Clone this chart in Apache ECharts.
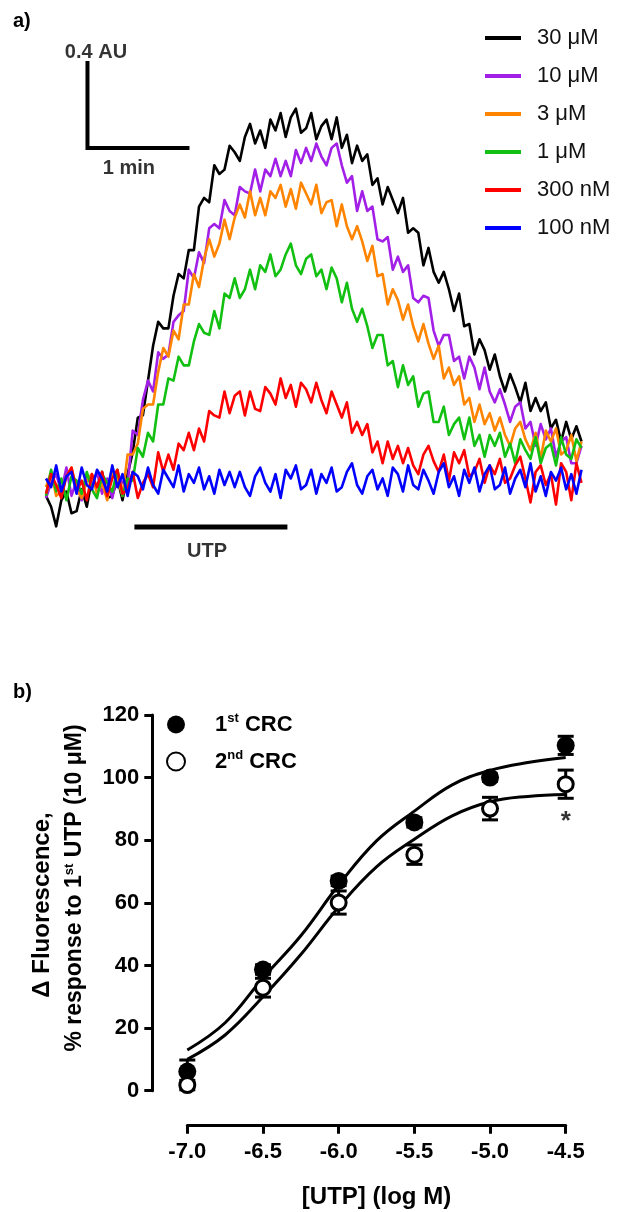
<!DOCTYPE html>
<html><head><meta charset="utf-8">
<script src="https://cdn.jsdelivr.net/npm/echarts@6/dist/echarts.min.js"></script>
<style>html,body{margin:0;padding:0;background:#fff}#c{width:622px;height:1212px}</style>
</head><body><div id="c"></div>
<script>
const FONT = '"Liberation Sans", Arial, Helvetica, sans-serif';

// ---------- Panel a: fluorescence traces (AU above baseline), sampled every 3 s ----------
const sampleStep = 3; // seconds between samples
const traceNames = ['30 μM', '10 μM', '3 μM', '1 μM', '300 nM', '100 nM'];
const traceColors = ['#000000', '#a21fe8', '#ff8400', '#12c012', '#ff0000', '#0000ff'];
const trace30uM = [
  -0.05,-0.10,-0.19,-0.07,-0.03,-0.13,-0.12,-0.02,-0.10,0.03,
  -0.01,0.06,-0.06,-0.05,0.03,-0.07,0.05,0.15,0.31,0.32,
  0.48,0.64,0.75,0.72,0.72,0.87,0.97,0.95,1.08,1.08,
  1.28,1.32,1.30,1.47,1.43,1.45,1.56,1.53,1.49,1.60,
  1.66,1.57,1.63,1.55,1.68,1.63,1.71,1.60,1.69,1.73,
  1.62,1.64,1.71,1.59,1.65,1.68,1.59,1.69,1.55,1.61,
  1.48,1.56,1.49,1.52,1.38,1.41,1.29,1.37,1.31,1.25,
  1.32,1.16,1.18,1.16,1.01,1.09,0.98,0.93,0.98,0.90,
  0.80,0.88,0.73,0.74,0.60,0.67,0.62,0.53,0.60,0.50,
  0.43,0.51,0.45,0.38,0.47,0.34,0.40,0.34,0.38,0.26,
  0.30,0.20,0.29,0.21,0.27,0.20];
const trace10uM = [
  -0.06,0.01,0.05,-0.03,0.08,-0.05,0.02,-0.07,0.04,0.00,
  0.06,-0.04,0.03,-0.06,0.05,0.01,0.00,0.25,0.23,0.39,
  0.48,0.43,0.61,0.58,0.60,0.75,0.78,0.80,0.99,0.95,
  1.07,1.02,1.18,1.20,1.18,1.31,1.26,1.24,1.37,1.35,
  1.34,1.45,1.35,1.45,1.42,1.50,1.42,1.49,1.42,1.54,
  1.48,1.55,1.49,1.57,1.51,1.47,1.55,1.57,1.47,1.39,
  1.42,1.26,1.35,1.26,1.28,1.13,1.12,1.14,0.99,1.05,
  0.98,1.01,0.86,0.84,0.87,0.86,0.71,0.64,0.69,0.69,
  0.57,0.59,0.49,0.59,0.54,0.44,0.54,0.43,0.38,0.44,
  0.37,0.29,0.36,0.38,0.26,0.29,0.18,0.28,0.21,0.26,
  0.13,0.20,0.22,0.10,0.10,0.18];
const trace3uM = [
  -0.01,0.06,-0.05,-0.03,0.04,0.08,-0.02,-0.06,0.02,0.05,
  -0.04,0.01,-0.07,0.06,0.03,-0.05,0.14,0.14,0.19,0.35,
  0.37,0.37,0.52,0.63,0.59,0.71,0.67,0.83,0.83,0.97,
  0.91,1.04,1.13,1.05,1.11,1.22,1.13,1.23,1.29,1.23,
  1.35,1.24,1.32,1.24,1.35,1.32,1.38,1.28,1.36,1.27,
  1.39,1.34,1.29,1.38,1.25,1.30,1.31,1.19,1.29,1.19,
  1.13,1.19,1.12,1.03,1.10,0.96,0.97,0.83,0.90,0.85,
  0.76,0.83,0.73,0.66,0.74,0.65,0.58,0.64,0.49,0.54,
  0.46,0.50,0.37,0.40,0.29,0.37,0.28,0.33,0.25,0.31,
  0.23,0.18,0.26,0.29,0.21,0.16,0.24,0.12,0.25,0.20,
  0.26,0.14,0.16,0.23,0.11,0.20];
const trace1uM = [
  -0.05,0.07,-0.03,0.03,-0.07,0.04,0.02,-0.04,0.06,-0.02,
  -0.06,0.05,0.01,-0.03,0.07,-0.05,0.03,0.02,0.17,0.13,
  0.24,0.20,0.37,0.37,0.49,0.48,0.59,0.55,0.55,0.66,
  0.74,0.70,0.69,0.80,0.72,0.88,0.86,0.95,0.86,0.90,
  0.99,0.90,1.01,0.98,1.06,0.96,0.99,1.06,1.11,1.01,
  0.97,1.04,1.06,0.96,0.99,0.90,1.00,0.95,0.84,0.93,
  0.81,0.75,0.81,0.73,0.63,0.69,0.69,0.55,0.57,0.45,
  0.55,0.46,0.50,0.36,0.42,0.43,0.29,0.29,0.36,0.23,
  0.28,0.31,0.21,0.31,0.18,0.23,0.13,0.23,0.18,0.24,
  0.13,0.19,0.10,0.21,0.16,0.12,0.22,0.10,0.17,0.19,
  0.09,0.22,0.14,0.12,0.21,0.17];
const trace300nM = [
  -0.04,0.05,0.00,-0.06,0.04,0.08,-0.03,0.02,-0.07,0.05,
  -0.01,0.06,-0.05,0.03,0.07,-0.04,-0.02,0.06,-0.06,0.01,
  0.05,-0.01,0.15,0.06,0.14,0.07,0.19,0.16,0.24,0.16,
  0.26,0.20,0.34,0.32,0.31,0.43,0.33,0.41,0.43,0.32,
  0.43,0.35,0.34,0.45,0.42,0.37,0.49,0.40,0.46,0.36,
  0.47,0.44,0.38,0.47,0.39,0.33,0.43,0.37,0.31,0.38,
  0.24,0.29,0.23,0.28,0.15,0.20,0.10,0.20,0.12,0.18,
  0.10,0.17,0.09,0.05,0.14,0.18,0.11,0.06,0.14,0.02,
  0.15,0.10,0.16,0.04,0.06,0.12,0.01,0.09,0.05,0.12,
  0.01,0.03,0.09,0.13,0.03,-0.08,0.06,0.09,0.00,0.05,
  -0.09,0.10,0.06,-0.07,0.10,0.01];
const trace100nM = [
  0.03,-0.01,0.09,-0.03,0.04,0.06,-0.04,0.08,0.00,-0.02,
  0.07,0.03,-0.03,0.09,-0.01,0.05,-0.05,0.06,0.04,-0.02,
  0.08,0.00,-0.04,0.07,0.03,-0.01,0.09,-0.03,0.05,0.01,
  0.08,-0.02,0.04,-0.04,0.07,0.00,0.06,-0.01,0.06,-0.01,
  -0.05,0.04,0.08,0.01,-0.03,0.05,-0.06,0.07,0.03,0.09,
  -0.02,0.00,0.07,-0.04,0.05,0.01,0.08,-0.03,-0.01,0.06,
  0.10,0.00,-0.04,0.04,0.07,-0.02,0.03,-0.05,0.08,0.05,
  -0.03,0.09,0.00,-0.02,0.07,0.02,-0.04,0.06,0.10,-0.01,
  0.04,-0.05,0.07,0.01,0.08,-0.03,0.05,0.09,-0.02,0.00,
  0.08,-0.04,0.03,0.07,-0.01,0.10,-0.03,0.04,-0.05,0.06,
  0.02,0.08,-0.02,0.05,-0.04,0.07];
const traces = [trace30uM, trace10uM, trace3uM, trace1uM, trace300nM, trace100nM];

// scale bar (0.4 AU x 1 min) and UTP application bar, in trace units (s, AU)
const scaleBarT = [24.4, 24.4, 84.4];
const scaleBarAU = [1.95, 1.55, 1.55];
const utpBarT = [52, 142];
const utpBarAU = -0.193;
const traceTexts = ['0.4 AU', '1 min', 'UTP'];
const traceTextT = [29.4, 48.8, 94.7];
const traceTextAU = [1.99, 1.455, -0.305];

// ---------- Panel b: concentration-response curves ----------
const logUTP = [-7.0, -6.5, -6.0, -5.5, -5.0, -4.5];
const crc1Mean = [6.1, 38.7, 67.0, 85.7, 100.0, 110.3];
const crc1Sem  = [3.7, 1.5, 1.5, 1.5, 1.2, 2.9];
const crc2Mean = [1.8, 32.9, 60.1, 75.4, 90.1, 97.9];
const crc2Sem  = [1.5, 3.0, 3.7, 3.1, 3.6, 4.5];
const fitX  = [-7.0, -6.75, -6.5, -6.25, -6.0, -5.75, -5.5, -5.25, -5.0, -4.75, -4.5];
const fit1  = [13.0, 21.7, 36.0, 49.5, 65.7, 79.8, 89.3, 97.7, 102.3, 104.8, 106.4];
const fit2  = [10.0, 17.8, 30.0, 43.5, 58.7, 71.5, 80.3, 87.8, 92.3, 94.0, 94.6];
const sigMark = {x: -4.5, y: 87.8, text: '*'};

const chart = echarts.init(document.getElementById('c'), null, {renderer: 'canvas'});

const traceSeries = traces.map((arr, k) => ({
  name: traceNames[k], type: 'line', xAxisIndex: 0, yAxisIndex: 0,
  data: arr.map((v, i) => [i * sampleStep, v]),
  showSymbol: false, symbol: 'none', clip: false,
  lineStyle: {color: traceColors[k], width: 2.6, join: 'round'},
  itemStyle: {color: traceColors[k]}, z: 2 + k
}));

function errRender(params, api) {
  const x = api.value(0), m = api.value(1), s = api.value(2);
  const top = api.coord([x, m + s]), bot = api.coord([x, m - s]);
  const w = 8, st = {stroke: '#000', lineWidth: 3};
  return {type: 'group', children: [
    {type: 'line', shape: {x1: top[0], y1: top[1], x2: bot[0], y2: bot[1]}, style: st},
    {type: 'line', shape: {x1: top[0] - w, y1: top[1], x2: top[0] + w, y2: top[1]}, style: st},
    {type: 'line', shape: {x1: bot[0] - w, y1: bot[1], x2: bot[0] + w, y2: bot[1]}, style: st}
  ]};
}

const supRich = {
  n: {fontFamily: FONT, fontSize: 22, fontWeight: 'bold', color: '#000', lineHeight: 26},
  s: {fontFamily: FONT, fontSize: 13, fontWeight: 'bold', color: '#000', lineHeight: 26, padding: [0, 0, 12, 0]}
};

const option = {
  animation: false,
  backgroundColor: '#fff',
  textStyle: {fontFamily: FONT},
  grid: [
    {left: 46, width: 535.5, top: 50, height: 522},
    {left: 187.3, right: 56.3, top: 715, bottom: 121.3}
  ],
  xAxis: [
    {gridIndex: 0, type: 'value', min: 0, max: 315, show: false},
    {gridIndex: 1, type: 'value', min: -7, max: -4.5, interval: 0.5, offset: 35,
     axisLine: {onZero: false, lineStyle: {color: '#000', width: 3}},
     axisTick: {length: 8, lineStyle: {color: '#000', width: 3}},
     splitLine: {show: false},
     axisLabel: {color: '#000', fontSize: 22, fontWeight: 'bold', fontFamily: FONT, margin: 15,
                 formatter: v => v.toFixed(1)},
     name: '[UTP] (log M)', nameLocation: 'middle', nameGap: 60,
     nameTextStyle: {color: '#000', fontSize: 24, fontWeight: 'bold', fontFamily: FONT}}
  ],
  yAxis: [
    {gridIndex: 0, type: 'value', min: -0.4, max: 2.0, show: false},
    {gridIndex: 1, type: 'value', min: 0, max: 120, interval: 20, offset: 35,
     axisLine: {show: true, onZero: false, lineStyle: {color: '#000', width: 3}},
     axisTick: {show: true, length: 8, lineStyle: {color: '#000', width: 3}},
     splitLine: {show: false},
     axisLabel: {color: '#000', fontSize: 22, fontWeight: 'bold', fontFamily: FONT, margin: 13}}
  ],
  legend: [
    {data: traceNames, orient: 'vertical', left: 480, top: 21, itemWidth: 36, itemHeight: 4,
     itemGap: 14, icon: 'rect', selectedMode: false,
     textStyle: {color: '#111', fontSize: 22, fontFamily: FONT, lineHeight: 24, padding: [0, 0, 0, 11]}},
    {data: ['1st CRC', '2nd CRC'], orient: 'vertical', left: 161, top: 707, itemWidth: 62, itemHeight: 18,
     itemGap: 12, selectedMode: false,
     formatter: name => name.startsWith('1st') ? '{n|1}{s|st}{n| CRC}' : '{n|2}{s|nd}{n| CRC}',
     textStyle: {rich: supRich, padding: [0, 0, 0, 3]}}
  ],
  graphic: [
    {type: 'text', left: 13, top: 11, style: {text: 'a)', font: 'bold 20px ' + FONT, fill: '#000'}},
    {type: 'text', left: 13, top: 682, style: {text: 'b)', font: 'bold 20px ' + FONT, fill: '#000'}},
    {type: 'text', x: 42, y: 905, rotation: Math.PI / 2,
     style: {text: 'Δ Fluorescence,', font: 'bold 24px ' + FONT, fill: '#000', align: 'center', verticalAlign: 'middle'}},
    {type: 'text', x: 75, y: 888, rotation: Math.PI / 2,
     style: {text: '{a|% response to 1}{s|st}{a| UTP (10 μM)}', align: 'center', verticalAlign: 'middle',
       rich: {a: {font: 'bold 23px ' + FONT, fill: '#000', lineHeight: 28},
              s: {font: 'bold 13px ' + FONT, fill: '#000', lineHeight: 28, padding: [0, 0, 12, 0]}}}}
  ],
  series: [
    ...traceSeries,
    {type: 'line', xAxisIndex: 0, yAxisIndex: 0, silent: true, symbol: 'none', clip: false,
     data: scaleBarT.map((t, i) => [t, scaleBarAU[i]]),
     lineStyle: {color: '#000', width: 4, cap: 'butt', join: 'miter'}, z: 10},
    {type: 'line', xAxisIndex: 0, yAxisIndex: 0, silent: true, symbol: 'none', clip: false,
     data: utpBarT.map(t => [t, utpBarAU]),
     lineStyle: {color: '#000', width: 5, cap: 'butt'}, z: 10},
    {type: 'scatter', xAxisIndex: 0, yAxisIndex: 0, silent: true, symbolSize: 0,
     data: traceTexts.map((s, i) => ({value: [traceTextT[i], traceTextAU[i]], name: s})),
     label: {show: true, position: 'inside', formatter: p => p.name, color: '#000',
             fontSize: 20, fontWeight: 'bold', fontFamily: FONT}, z: 11},
    // panel b
    {type: 'line', xAxisIndex: 1, yAxisIndex: 1, smooth: 0.4, symbol: 'none', silent: true,
     data: fitX.map((x, i) => [x, fit1[i]]), lineStyle: {color: '#000', width: 3}, z: 2},
    {type: 'line', xAxisIndex: 1, yAxisIndex: 1, smooth: 0.4, symbol: 'none', silent: true,
     data: fitX.map((x, i) => [x, fit2[i]]), lineStyle: {color: '#000', width: 3}, z: 2},
    {type: 'custom', xAxisIndex: 1, yAxisIndex: 1, renderItem: errRender, clip: false, silent: true,
     encode: {x: 0, y: 1}, data: logUTP.map((x, i) => [x, crc1Mean[i], crc1Sem[i]]), z: 3},
    {type: 'custom', xAxisIndex: 1, yAxisIndex: 1, renderItem: errRender, clip: false, silent: true,
     encode: {x: 0, y: 1}, data: logUTP.map((x, i) => [x, crc2Mean[i], crc2Sem[i]]), z: 3},
    {name: '1st CRC', type: 'scatter', xAxisIndex: 1, yAxisIndex: 1, symbol: 'circle', symbolSize: 18,
     data: logUTP.map((x, i) => [x, crc1Mean[i]]), itemStyle: {color: '#000', opacity: 1}, z: 4},
    {name: '2nd CRC', type: 'scatter', xAxisIndex: 1, yAxisIndex: 1, symbol: 'circle', symbolSize: 15,
     data: logUTP.map((x, i) => [x, crc2Mean[i]]),
     itemStyle: {color: '#fff', borderColor: '#000', borderWidth: 3, opacity: 1}, z: 5},
    {type: 'scatter', xAxisIndex: 1, yAxisIndex: 1, symbolSize: 0, silent: true,
     data: [{value: [sigMark.x, sigMark.y], name: sigMark.text}],
     label: {show: true, position: 'inside', formatter: p => p.name, color: '#000',
             fontSize: 26, fontWeight: 'bold', fontFamily: FONT, offset: [0, 6]}, z: 6}
  ]
};
chart.setOption(option);
</script>
</body></html>
